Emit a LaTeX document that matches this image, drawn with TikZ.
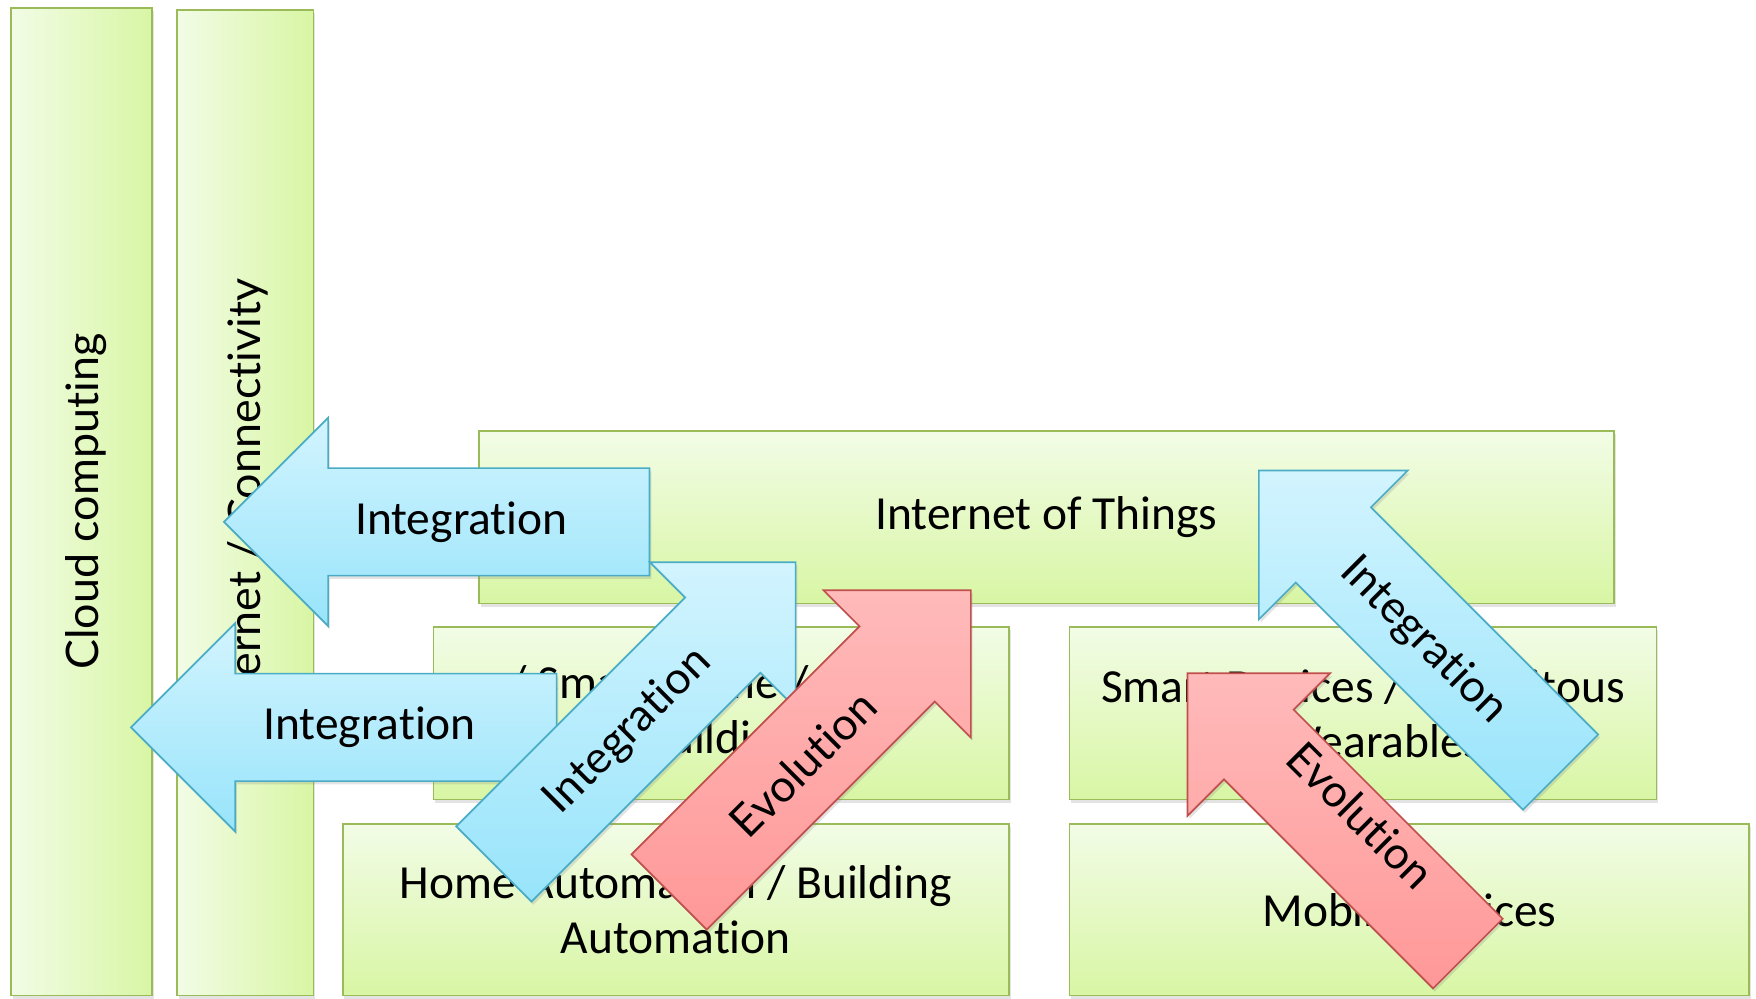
\documentclass[tikz,border=0pt]{standalone}
\usepackage{fontspec}
\setmainfont{Carlito}[Ligatures={NoCommon,NoContextual}]
\newfontfamily\rotfont{Lato}[Ligatures={NoCommon,NoContextual}]
\usetikzlibrary{shadows}
\definecolor{gL}{HTML}{F2FCE6}
\definecolor{gD}{HTML}{D8F6A4}
\definecolor{gB}{HTML}{9BBB59}
\definecolor{bL}{HTML}{D2F4FE}
\definecolor{bD}{HTML}{98E4FB}
\definecolor{bB}{HTML}{4BACC6}
\definecolor{rL}{HTML}{FFBABA}
\definecolor{rD}{HTML}{FF9898}
\definecolor{rB}{HTML}{C0504D}
\newcommand{\bigarrow}[6]{%
  \begin{scope}[shift={#1},rotate=#2]
    \path[#6] (0,#4) -- ({#3-#5},#4) -- ({#3-#5},#5) -- (#3,0) -- ({#3-#5},-#5) -- ({#3-#5},-#4) -- (0,-#4) -- cycle;
  \end{scope}}
\tikzset{
  shad/.style={drop shadow={opacity=0.22, shadow xshift=0.8pt, shadow yshift=-1.4pt}},
  gbox/.style={draw=gB, line width=0.75pt, top color=gL, bottom color=gD, shad, inner sep=0pt,
     font=\fontsize{21.2}{24.5}\selectfont, align=center, text=black},
  gcol/.style={draw=gB, line width=0.75pt, left color=gL, right color=gD, shad, inner sep=0pt},
  barrow/.style={draw=bB, line width=0.75pt, top color=bL, bottom color=bD, shad},
  rarrow/.style={draw=rB, line width=0.75pt, top color=rL, bottom color=rD, shad},
  lbl/.style={font=\fontsize{21.2}{24.5}\selectfont, align=center, text=black, inner sep=0pt},
  dlbl/.style={font=\rotfont\fontsize{20}{23}\selectfont, text=black, inner sep=0pt},
  clbl/.style={font=\rotfont\fontsize{20}{23}\selectfont, rotate=90, text=black, inner sep=0pt}
}
\begin{document}
\begin{tikzpicture}[x=0.5pt,y=-0.5pt]
\useasboundingbox (0,0) rectangle (1568,892);
\fill[white] (0,0) rectangle (1568,892);
% columns
\node[gcol, minimum width=63pt, minimum height=441pt] (col1) at (73,448) {};
\node[gcol, minimum width=61pt, minimum height=440pt] (col2) at (219,449) {};
\node[clbl] (col1t) at (77,448) {Cloud computing};
\node[clbl] (col2t) at (221,450) {Internet / Connectivity};
% boxes
\node[gbox, minimum width=506.5pt, minimum height=77pt] (iot) at (934.5,462) {Internet of Things};
\node[gbox, minimum width=257pt, minimum height=77pt] (sh) at (644,637) {/ Smart Home / Smart\\Building};
\node[gbox, minimum width=297.5pt, minimum height=76.5pt] (ha) at (603.5,812.5) {Home Automation / Building\\Automation};
\node[gbox, minimum width=262pt, minimum height=77pt] (sd) at (1217,637) {Smart Devices / Ubiquitous\\\hspace*{16pt}Wearables};
\node[gbox, minimum width=303.5pt, minimum height=76.5pt] (md) at (1258.5,812.5) {Mobile Devices};
% arrows
\bigarrow{(580,466)}{180}{380}{48}{93}{barrow}
\node[lbl] (a1) at (412,466) {Integration};
\bigarrow{(497,649.5)}{180}{380}{48}{93}{barrow}
\node[lbl] (a2) at (330,649.5) {Integration};
\bigarrow{(441,771.5)}{45}{381}{47.5}{92}{barrow}
\node[dlbl, rotate=45] (a3) at (561,653) {Integration};
\bigarrow{(597.5,796.5)}{45}{381}{47.5}{93}{rarrow}
\node[dlbl, rotate=45] (a4) at (717,682) {Evolution};
\bigarrow{(1393.5,689.5)}{135}{381}{47.5}{94}{barrow}
\node[dlbl, rotate=-45] (a5) at (1271,572) {Integration};
\bigarrow{(1310.7,851.5)}{135}{354}{44}{90}{rarrow}
\node[dlbl, rotate=-45] (a6) at (1215,728) {Evolution};
\end{tikzpicture}
\end{document}
